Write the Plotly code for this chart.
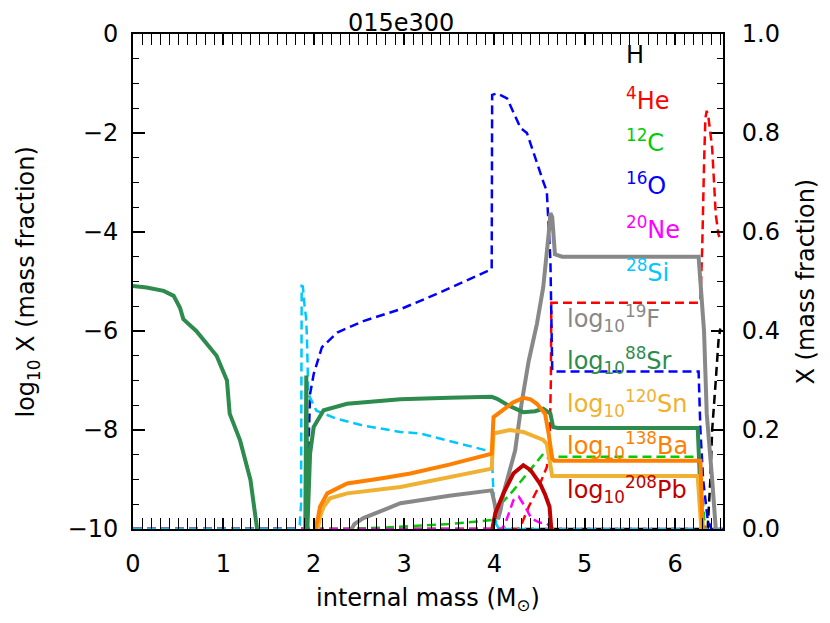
import plotly.graph_objects as go

# ---------------- data ----------------
# mass fractions X (right axis), dashed
h_m = [0, 6.36, 6.39, 6.41, 6.45, 6.48, 6.50]
h_x = [0, 0, 0.10, 0.20, 0.30, 0.38, 0.405]

he_m = [0, 4.27, 4.29, 4.38, 4.49, 4.58, 4.61, 4.625, 4.63, 6.26, 6.28, 6.30, 6.32, 6.335, 6.35, 6.37, 6.41, 6.43, 6.45, 6.48, 6.49]
he_x = [0, 0, 0.005, 0.045, 0.085, 0.125, 0.166, 0.30, 0.457, 0.457, 0.46, 0.568, 0.736, 0.83, 0.845, 0.83, 0.77, 0.70, 0.635, 0.595, 0.59]

c_m = [0, 2.30, 2.80, 3.10, 3.50, 3.97, 4.06, 4.21, 4.36, 4.47, 4.56, 4.60, 4.65, 6.27, 6.30, 6.33]
c_x = [0, 0, 0.003, 0.006, 0.010, 0.018, 0.048, 0.078, 0.112, 0.135, 0.156, 0.157, 0.146, 0.146, 0.07, 0]

o_m = [0, 1.92, 1.94, 1.96, 2.00, 2.09, 2.26, 2.55, 2.96, 3.40, 3.97, 3.975, 4.03, 4.14, 4.29, 4.36, 4.54, 4.58, 4.62, 4.64, 4.66, 6.26, 6.28, 6.31, 6.36, 6.40, 6.53]
o_x = [0, 0, 0.15, 0.273, 0.313, 0.367, 0.397, 0.42, 0.444, 0.478, 0.525, 0.877, 0.88, 0.87, 0.81, 0.80, 0.702, 0.682, 0.541, 0.32, 0.318, 0.318, 0.20, 0.10, 0.02, 0, 0]

ne_m = [0, 4.08, 4.12, 4.21, 4.27, 4.34, 4.41, 4.50, 4.58, 4.65, 6.53]
ne_x = [0, 0, 0.011, 0.058, 0.065, 0.045, 0.021, 0.013, 0.011, 0, 0]

si_m = [0, 1.80, 1.845, 1.86, 1.867, 1.88, 1.90, 1.915, 1.925, 1.94, 2.03, 2.25, 2.55, 2.96, 3.18, 3.50, 3.97, 3.99, 4.02, 4.05, 6.53]
si_x = [0, 0, 0.008, 0.05, 0.491, 0.49, 0.448, 0.428, 0.388, 0.273, 0.239, 0.223, 0.209, 0.196, 0.193, 0.178, 0.156, 0.07, 0.01, 0, 0]

# log10 mass fractions (left axis), solid
f_m = [2.33, 2.45, 2.55, 2.74, 2.96, 3.07, 3.50, 3.97, 4.00, 4.04, 4.07, 4.10, 4.16, 4.23, 4.30, 4.38, 4.47, 4.54, 4.60, 4.62, 4.64, 4.67, 4.75, 6.26, 6.32, 6.35, 6.41, 6.45, 6.47]
f_l = [-10.3, -9.9, -9.78, -9.65, -9.48, -9.45, -9.33, -9.22, -9.5, -9.8, -9.6, -9.28, -8.88, -8.41, -7.47, -6.6, -5.86, -5.12, -4.05, -3.62, -3.7, -4.45, -4.5, -4.5, -6.0, -7.67, -9.0, -10.0, -10.5]

sr_m = [0, 0.15, 0.34, 0.45, 0.52, 0.557, 0.70, 0.925, 1.04, 1.07, 1.185, 1.30, 1.37, 1.39, None,
        1.905, 1.918, 1.93, 1.945, 1.96, 2.00, 2.11, 2.37, 2.96, 3.50, 3.97, 4.03, 4.15, 4.32, 4.45, 4.54, 4.62, 4.65, 4.70, 6.25, 6.31]
sr_l = [-5.09, -5.12, -5.19, -5.29, -5.53, -5.76, -6.0, -6.5, -7.0, -7.67, -8.21, -9.01, -9.95, -10.5, None,
        -10.5, -6.9, -10.0, -9.3, -8.48, -7.94, -7.6, -7.47, -7.38, -7.35, -7.33, -7.37, -7.5, -7.64, -7.62, -7.57, -7.67, -7.94, -7.96, -7.96, -10.5]

sn_m = [2.03, 2.05, 2.08, 2.11, 2.18, 2.37, 2.96, 3.07, 3.50, 3.97, 3.99, 4.17, 4.32, 4.54, 4.58, 4.62, 4.64, 4.70, 6.25, 6.29, 6.31]
sn_l = [-10.5, -9.95, -9.7, -9.55, -9.38, -9.28, -9.15, -9.11, -8.95, -8.78, -8.07, -8.0, -8.04, -8.2, -8.28, -8.75, -8.93, -8.93, -8.93, -10.0, -10.5]

ba_m = [2.00, 2.02, 2.05, 2.07, 2.15, 2.37, 2.74, 2.96, 3.07, 3.50, 3.97, 3.99, 4.10, 4.20, 4.32, 4.40, 4.47, 4.56, 4.60, 4.64, 4.66, 6.28, 6.30, 6.33]
ba_l = [-10.5, -9.98, -9.75, -9.55, -9.28, -9.08, -8.98, -8.91, -8.88, -8.7, -8.48, -7.74, -7.6, -7.45, -7.35, -7.38, -7.47, -7.67, -8.07, -8.58, -8.62, -8.62, -9.8, -10.5]

pb_m = [3.97, 3.98, 4.01, 4.10, 4.21, 4.32, 4.40, 4.51, 4.56, 4.61, 4.63, 4.64]
pb_l = [-10.5, -9.97, -9.68, -9.28, -8.88, -8.71, -8.81, -9.1, -9.3, -9.55, -10.0, -10.5]

# labels
frac_labels = ["H", "<sup>4</sup>He", "<sup>12</sup>C", "<sup>16</sup>O", "<sup>20</sup>Ne", "<sup>28</sup>Si"]
frac_colors = ["#000000", "#ff0000", "#00cc00", "#0000ff", "#ff00ff", "#00c8ff"]
log_labels = ["log<sub>10</sub><sup>19</sup>F", "log<sub>10</sub><sup>88</sup>Sr", "log<sub>10</sub><sup>120</sup>Sn",
              "log<sub>10</sub><sup>138</sup>Ba", "log<sub>10</sub><sup>208</sup>Pb"]
log_colors = ["#888888", "#2e8b4e", "#f0b030", "#ff8000", "#c00000"]

y_ticks = [-10, -8, -6, -4, -2, 0]
y2_ticks = [0.0, 0.2, 0.4, 0.6, 0.8, 1.0]
x_ticks = [0, 1, 2, 3, 4, 5, 6]

FONT = "DejaVu Sans"
FS = 24

fig = go.Figure()

dash = "9px,5px"
frac_series = [(h_m, h_x), (he_m, he_x), (c_m, c_x), (o_m, o_x), (ne_m, ne_x), (si_m, si_x)]
for (m, x), col in zip(frac_series, frac_colors):
    fig.add_trace(go.Scatter(x=m, y=x, mode="lines", yaxis="y2",
                             line=dict(color=col, width=2.5, dash=dash), hoverinfo="skip"))

log_series = [(f_m, f_l), (sr_m, sr_l), (sn_m, sn_l), (ba_m, ba_l), (pb_m, pb_l)]
for (m, l), col in zip(log_series, log_colors):
    fig.add_trace(go.Scatter(x=m, y=l, mode="lines", yaxis="y",
                             line=dict(color=col, width=4), hoverinfo="skip"))

annotations = []
frac_y = [-0.42, -1.31, -2.17, -3.04, -3.92, -4.79]
for txt, col, yy in zip(frac_labels, frac_colors, frac_y):
    annotations.append(dict(x=5.43, y=yy, xref="x", yref="y", text=txt, showarrow=False,
                            xanchor="left", yanchor="middle", font=dict(color=col, size=FS, family=FONT)))
log_y = [-5.75, -6.6, -7.46, -8.32, -9.2]
for txt, col, yy in zip(log_labels, log_colors, log_y):
    annotations.append(dict(x=4.78, y=yy, xref="x", yref="y", text=txt, showarrow=False,
                            xanchor="left", yanchor="middle", font=dict(color=col, size=FS, family=FONT)))

annotations += [
    dict(x=0.454, y=1.0, xref="paper", yref="paper", text="015e300", showarrow=False,
         xanchor="center", yanchor="bottom", yshift=-4, borderpad=0,
         font=dict(size=FS, family=FONT, color="black")),
    dict(x=-0.178, y=0.5, xref="paper", yref="paper", text="log<sub>10</sub> X (mass fraction)", showarrow=False,
         textangle=-90, xanchor="center", yanchor="middle", font=dict(size=FS, family=FONT, color="black")),
    dict(x=1.139, y=0.5, xref="paper", yref="paper", text="X (mass fraction)", showarrow=False,
         textangle=-90, xanchor="center", yanchor="middle", font=dict(size=FS, family=FONT, color="black")),
    dict(x=0.5, y=-0.143, xref="paper", yref="paper", text="internal mass (M<sub>⊙</sub>)", showarrow=False,
         xanchor="center", yanchor="middle", font=dict(size=FS, family=FONT, color="black")),
]

# page body has an 8px default margin: shrink the figure so the plot lands where the reference has it
fig.update_layout(
    width=822, height=615,
    margin=dict(l=125, r=107, t=24, b=94),
    paper_bgcolor="white", plot_bgcolor="white",
    showlegend=False,
    font=dict(family=FONT, size=FS, color="black"),
    xaxis=dict(range=[0, 6.53], tickvals=x_ticks, ticks="inside", ticklen=11, tickwidth=1.5,
               tickcolor="black", showline=True, linecolor="black", linewidth=2, mirror="allticks",
               showgrid=False, zeroline=False, ticklabelstandoff=12,
               minor=dict(dtick=0.1, ticks="inside", ticklen=5, tickwidth=1.2, tickcolor="black"),
               tickfont=dict(size=FS, family=FONT)),
    yaxis=dict(range=[-10, 0], tickvals=y_ticks, ticks="inside", ticklen=12, tickwidth=1.5,
               tickcolor="black", showline=True, linecolor="black", linewidth=2, side="left",
               showgrid=False, zeroline=False, overlaying="y2", ticklabelstandoff=8,
               minor=dict(dtick=0.5, ticks="inside", ticklen=6, tickwidth=1.2, tickcolor="black"),
               tickfont=dict(size=FS, family=FONT)),
    yaxis2=dict(range=[0, 1], tickvals=y2_ticks, tickformat=".1f", ticks="inside", ticklen=12, tickwidth=1.5,
                tickcolor="black", showline=True, linecolor="black", linewidth=2, side="right",
                showgrid=False, zeroline=False, ticklabelstandoff=12,
                minor=dict(dtick=0.05, ticks="inside", ticklen=6, tickwidth=1.2, tickcolor="black"),
                tickfont=dict(size=FS, family=FONT)),
    annotations=annotations,
)

fig.write_html("out.html")
